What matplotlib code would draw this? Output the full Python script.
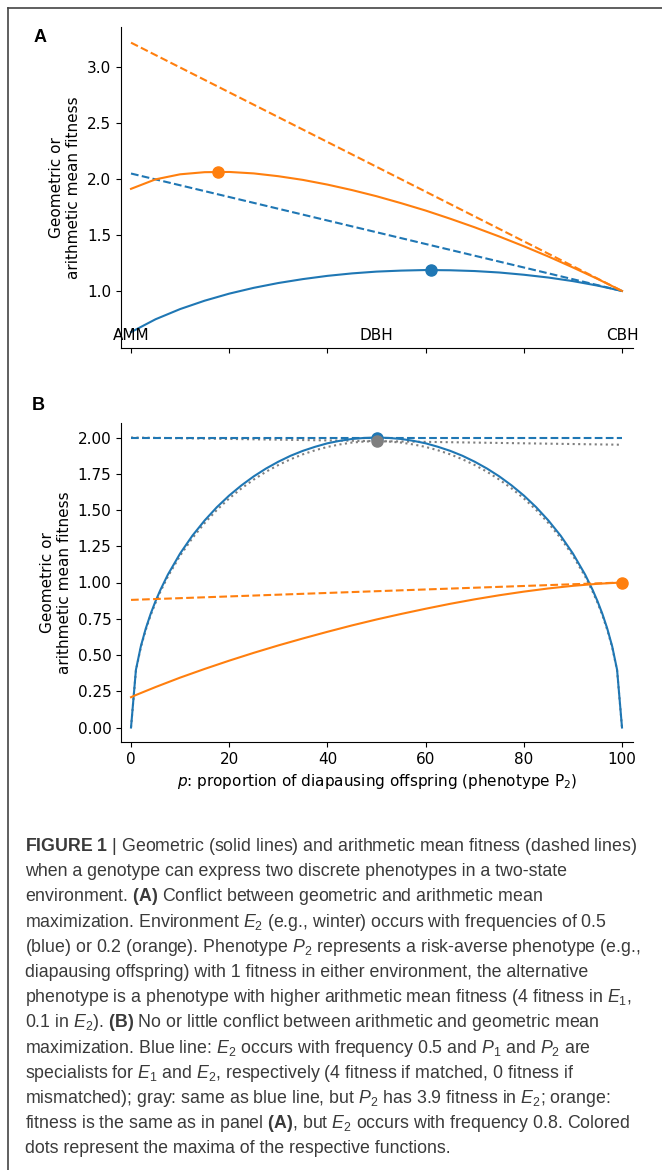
import matplotlib
matplotlib.use('Agg')
import matplotlib.pyplot as plt
from matplotlib.lines import Line2D
from matplotlib import font_manager

# panel A: x = share of risk-averse phenotype (AMM -> CBH)
a_x = [0, 0.05, 0.1, 0.15, 0.2, 0.25, 0.3, 0.35, 0.4, 0.45, 0.5,
       0.55, 0.6, 0.65, 0.7, 0.75, 0.8, 0.85, 0.9, 0.95, 1.0]
a_geo_blue = [0.632, 0.747, 0.838, 0.913, 0.976, 1.028, 1.071, 1.106, 1.135, 1.157, 1.173,
              1.182, 1.187, 1.185, 1.178, 1.165, 1.145, 1.120, 1.088, 1.048, 1.000]
a_geo_orange = [1.913, 1.998, 2.043, 2.062, 2.064, 2.051, 2.026, 1.993, 1.951, 1.902, 1.847,
                1.785, 1.719, 1.646, 1.569, 1.487, 1.400, 1.308, 1.210, 1.108, 1.000]
a_ari_x = [0, 1]
a_ari_blue = [2.05, 1.0]
a_ari_orange = [3.22, 1.0]
a_max_blue = (0.61, 1.187)
a_max_orange = (0.178, 2.065)
a_labels = ['AMM', 'DBH', 'CBH']
a_label_x = [0, 0.5, 1.0]

# panel B: x = p in percent
b_x = [0, 1, 2, 3, 4, 5, 6, 7.5, 10, 12.5, 15, 17.5, 20, 22.5, 25, 27.5, 30, 32.5, 35,
       37.5, 40, 42.5, 45, 47.5, 50, 52.5, 55, 57.5, 60, 62.5, 65, 67.5, 70, 72.5, 75,
       77.5, 80, 82.5, 85, 87.5, 90, 92.5, 94, 95, 96, 97, 98, 99, 100]
b_geo_blue = [0, 0.398, 0.560, 0.682, 0.784, 0.872, 0.950, 1.054, 1.200, 1.323, 1.428, 1.520,
              1.600, 1.670, 1.732, 1.786, 1.833, 1.874, 1.908, 1.936, 1.960, 1.977, 1.990,
              1.997, 2.000, 1.997, 1.990, 1.977, 1.960, 1.936, 1.908, 1.874, 1.833, 1.786,
              1.732, 1.670, 1.600, 1.520, 1.428, 1.323, 1.200, 1.054, 0.950, 0.872, 0.784,
              0.682, 0.560, 0.398, 0]
b_geo_gray = [0, 0.393, 0.553, 0.673, 0.774, 0.861, 0.938, 1.041, 1.185, 1.306, 1.410, 1.501,
              1.580, 1.649, 1.710, 1.764, 1.810, 1.850, 1.884, 1.912, 1.935, 1.952, 1.965,
              1.972, 1.975, 1.972, 1.965, 1.952, 1.935, 1.912, 1.884, 1.850, 1.810, 1.764,
              1.710, 1.649, 1.580, 1.501, 1.410, 1.306, 1.185, 1.041, 0.938, 0.861, 0.774,
              0.673, 0.553, 0.393, 0]
b_orange_x = [0, 1, 5, 10, 15, 20, 25, 30, 35, 40, 45, 50, 55, 60, 65, 70, 75, 80, 85, 90, 95, 100]
b_geo_orange = [0.209, 0.224, 0.279, 0.344, 0.404, 0.461, 0.515, 0.566, 0.614, 0.660, 0.704,
                0.745, 0.783, 0.819, 0.853, 0.884, 0.912, 0.937, 0.959, 0.977, 0.991, 1.000]
b_ari_x = [0, 100]
b_ari_blue = [2.0, 2.0]
b_ari_gray = [2.0, 1.95]
b_ari_orange = [0.88, 1.0]
b_max_blue = (50, 2.0)
b_max_gray = (50, 1.975)
b_max_orange = (100, 1.0)

caption = [
    r'$\mathbf{FIGURE\ 1}$ | Geometric (solid lines) and arithmetic mean fitness (dashed lines)',
    'when a genotype can express two discrete phenotypes in a two-state',
    r'environment. $\mathbf{(A)}$ Conflict between geometric and arithmetic mean',
    r'maximization. Environment $E_2$ (e.g., winter) occurs with frequencies of 0.5',
    r'(blue) or 0.2 (orange). Phenotype $P_2$ represents a risk-averse phenotype (e.g.,',
    'diapausing offspring) with 1 fitness in either environment, the alternative',
    r'phenotype is a phenotype with higher arithmetic mean fitness (4 fitness in $E_1$,',
    r'0.1 in $E_2$). $\mathbf{(B)}$ No or little conflict between arithmetic and geometric mean',
    r'maximization. Blue line: $E_2$ occurs with frequency 0.5 and $P_1$ and $P_2$ are',
    r'specialists for $E_1$ and $E_2$, respectively (4 fitness if matched, 0 fitness if',
    r'mismatched); gray: same as blue line, but $P_2$ has 3.9 fitness in $E_2$; orange:',
    r'fitness is the same as in panel $\mathbf{(A)}$, but $E_2$ occurs with frequency 0.8. Colored',
    'dots represent the maxima of the respective functions.',
]

blue = '#1f77b4'
orange = '#ff7f0e'
gray = '#7f7f7f'

names = {f.name for f in font_manager.fontManager.ttflist}
cap_font = 'Liberation Sans Narrow' if 'Liberation Sans Narrow' in names else 'Liberation Sans'
cap_size = 14 if cap_font == 'Liberation Sans Narrow' else 12.8

plt.rcParams['mathtext.fontset'] = 'custom'
plt.rcParams['mathtext.rm'] = cap_font
plt.rcParams['mathtext.it'] = cap_font + ':italic'
plt.rcParams['mathtext.bf'] = cap_font + ':bold'

W, H = 662, 1170
fig = plt.figure(figsize=(W / 100, H / 100), dpi=100)

def box(l, r, t, b):
    return [l / W, 1 - b / H, (r - l) / W, (b - t) / H]

# ---- panel A
ax1 = fig.add_axes(box(121, 633, 27, 348))
ax1.plot(a_x, a_geo_blue, color=blue, lw=1.5)
ax1.plot(a_ari_x, a_ari_blue, color=blue, lw=1.5, ls='--')
ax1.plot(a_x, a_geo_orange, color=orange, lw=1.5)
ax1.plot(a_ari_x, a_ari_orange, color=orange, lw=1.5, ls='--')
ax1.plot(*a_max_blue, 'o', color=blue, ms=8)
ax1.plot(*a_max_orange, 'o', color=orange, ms=8)
for lab, xx in zip(a_labels, a_label_x):
    ax1.text(xx, 0.6, lab, ha='center', va='center', fontsize=11)
ax1.set_xlim(-0.0204, 1.0224)
ax1.set_ylim(0.49, 3.36)
ax1.set_xticks([0, 0.2, 0.4, 0.6, 0.8, 1.0])
ax1.set_xticklabels([])
ax1.set_yticks([1.0, 1.5, 2.0, 2.5, 3.0])

# ---- panel B
ax2 = fig.add_axes(box(121, 633, 423, 742))
ax2.plot(b_x, b_geo_gray, color=gray, lw=1.5, ls=':')
ax2.plot(b_ari_x, b_ari_gray, color=gray, lw=1.5, ls=':')
ax2.plot(b_x, b_geo_blue, color=blue, lw=1.5)
ax2.plot(b_ari_x, b_ari_blue, color=blue, lw=1.5, ls='--')
ax2.plot(b_orange_x, b_geo_orange, color=orange, lw=1.5)
ax2.plot(b_ari_x, b_ari_orange, color=orange, lw=1.5, ls='--')
ax2.plot(*b_max_blue, 'o', color=blue, ms=8)
ax2.plot(*b_max_gray, 'o', color=gray, ms=8)
ax2.plot(*b_max_orange, 'o', color=orange, ms=8)
ax2.set_xlim(-2.04, 102.24)
ax2.set_ylim(-0.1, 2.1)
ax2.set_yticks([0, 0.25, 0.5, 0.75, 1.0, 1.25, 1.5, 1.75, 2.0])
ax2.set_yticklabels(['%.2f' % v for v in ax2.get_yticks()])
ax2.set_xlabel(r'$p$: proportion of diapausing offspring (phenotype P$_2$)',
               fontsize=11, math_fontfamily='dejavusans')

for ax in (ax1, ax2):
    ax.spines['top'].set_visible(False)
    ax.spines['right'].set_visible(False)
    ax.tick_params(labelsize=11)
    ax.set_ylabel('Geometric or\narithmetic mean fitness', fontsize=11)

fig.text(40 / W, 1 - 38 / H, 'A', fontsize=13, fontweight='bold',
         family='Liberation Sans', ha='center', va='center')
fig.text(38 / W, 1 - 405 / H, 'B', fontsize=13, fontweight='bold',
         family='Liberation Sans', ha='center', va='center')

for i, line in enumerate(caption):
    fig.text(25 / W, 1 - (851 + i * 25.2) / H, line, fontsize=cap_size,
             family=cap_font, color='#3a3a3a', ha='left', va='baseline')

# frame around the figure (only top and left edges show)
fig.add_artist(Line2D([8 / W, 1], [1 - 8 / H, 1 - 8 / H], transform=fig.transFigure,
                      color='#444444', lw=1.2))
fig.add_artist(Line2D([8 / W, 8 / W], [0, 1 - 8 / H], transform=fig.transFigure,
                      color='#444444', lw=1.2))

fig.savefig('out.png', dpi=100)
